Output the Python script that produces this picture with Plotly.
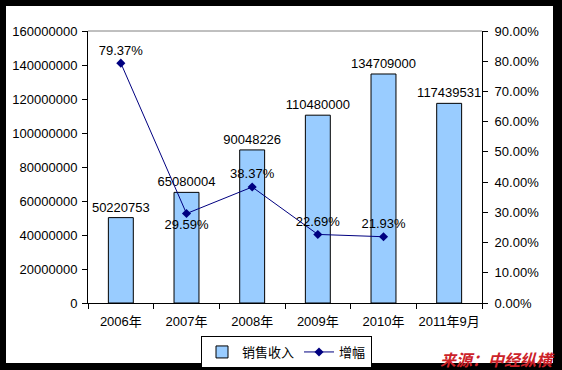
import plotly.graph_objects as go

categories = ["2006年", "2007年", "2008年", "2009年", "2010年", "2011年9月"]
sales = [50220753, 65080004, 90048226, 110480000, 134709000, 117439531]
growth_cats = ["2006年", "2007年", "2008年", "2009年", "2010年"]
growth = [0.7937, 0.2959, 0.3837, 0.2269, 0.2193]
growth_pos = ["top center", "bottom center", "top center", "top center", "top center"]
left_ticks = [0, 20000000, 40000000, 60000000, 80000000, 100000000, 120000000, 140000000, 160000000]
right_ticks = [0, 0.1, 0.2, 0.3, 0.4, 0.5, 0.6, 0.7, 0.8, 0.9]

W, H = 562, 370
L, R, T, B = 88, 482, 31, 303

def px(x):
    return (x - L) / (R - L)

def py(y):
    return (B - y) / (B - T)

FONT = "Liberation Sans, Arial, Noto Sans CJK SC"

fig = go.Figure()
fig.add_trace(go.Bar(
    x=categories, y=sales, name="销售收入",
    marker=dict(color="#99CCFF", line=dict(color="black", width=1)),
    width=0.38,
    text=[str(v) for v in sales], textposition="outside",
    textfont=dict(family=FONT, size=13, color="black"),
    constraintext="none",
    cliponaxis=False,
))
fig.add_trace(go.Scatter(
    x=growth_cats, y=growth, name="增幅", yaxis="y2",
    mode="lines+markers+text",
    line=dict(color="#000080", width=1),
    marker=dict(symbol="diamond", size=7, color="#000080"),
    text=[f"{v*100:.2f}%" for v in growth], textposition=growth_pos,
    textfont=dict(family=FONT, size=13, color="black"),
    cliponaxis=False,
))

fig.update_layout(
    width=W, height=H,
    margin=dict(l=L, r=W - R, t=T, b=H - B, pad=0, autoexpand=False),
    paper_bgcolor="black", plot_bgcolor="white",
    font=dict(family=FONT, size=13, color="black"),
    bargap=0.62,
    showlegend=True,
    legend=dict(orientation="h", x=px(286.5), xanchor="center", y=py(336), yanchor="top",
                bgcolor="white", bordercolor="black", borderwidth=1,
                font=dict(family=FONT, size=13, color="black"),
                itemwidth=30, tracegroupgap=0),
    xaxis=dict(showline=True, linecolor="black", linewidth=1, ticks="outside", ticklen=5,
               tickcolor="black", tickson="boundaries", showgrid=False, tickangle=0,
               automargin=False, ticklabelstandoff=6,
               tickfont=dict(family=FONT, size=13, color="black"), mirror=False),
    yaxis=dict(range=[0, 160000000], tickvals=left_ticks, ticktext=[str(v) for v in left_ticks],
               showline=True, linecolor="black", linewidth=1, ticks="outside", ticklen=5,
               tickcolor="black", showgrid=False, zeroline=False, automargin=False,
               ticklabelstandoff=2,
               tickfont=dict(family=FONT, size=13, color="black")),
    yaxis2=dict(range=[0, 0.9], tickvals=right_ticks, ticktext=[f"{v*100:.2f}%" for v in right_ticks],
                overlaying="y", side="right",
                showline=True, linecolor="black", linewidth=1, ticks="outside", ticklen=5,
                tickcolor="black", showgrid=False, zeroline=False, automargin=False,
                ticklabelstandoff=4,
                tickfont=dict(family=FONT, size=13, color="black")),
    shapes=[
        dict(type="rect", xref="paper", yref="paper", x0=px(6), x1=px(553), y0=py(363), y1=py(6),
             fillcolor="white", line=dict(width=0), layer="below"),
        dict(type="line", xref="paper", yref="paper", x0=0, x1=1, y0=1, y1=1,
             line=dict(color="#808080", width=1)),
    ],
    annotations=[
        dict(text="来源：中经纵横", xref="paper", yref="paper", x=px(557), y=py(359),
             xanchor="right", yanchor="middle", showarrow=False,
             font=dict(family="Noto Sans CJK SC", size=16, color="#CC2229", weight="bold", style="italic")),
    ],
)

fig.write_html("out.html", config={"displayModeBar": False},
               post_script="document.body.style.margin='0';document.body.style.padding='0';document.body.style.overflow='hidden';")
